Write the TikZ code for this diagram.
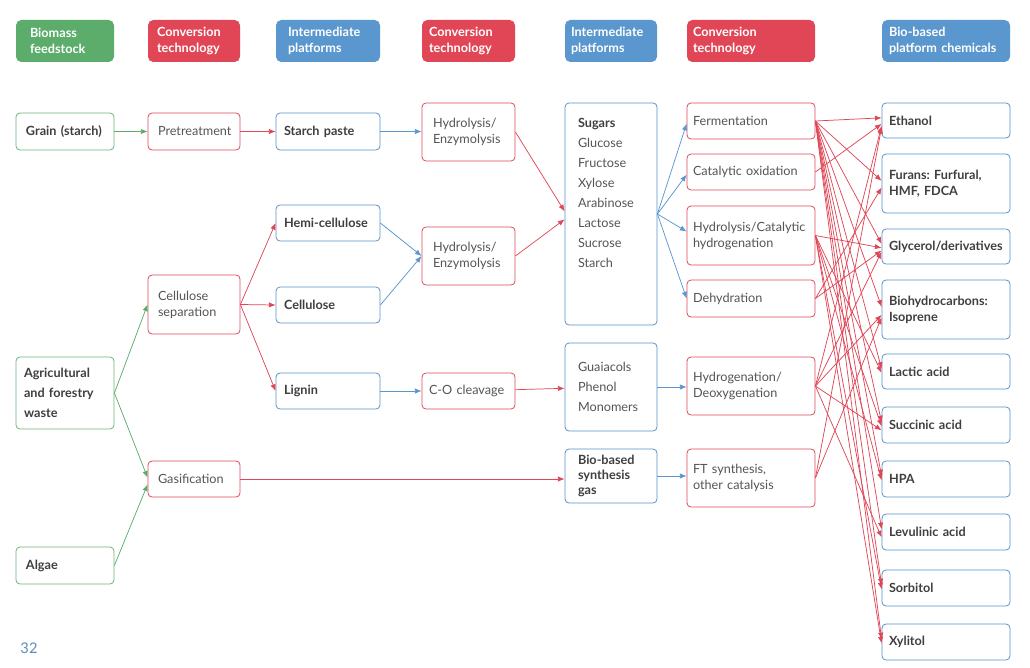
\documentclass[tikz,border=0pt]{standalone}
\usepackage{fontspec}
\setmainfont{Lato}
\usetikzlibrary{arrows.meta}
\hyphenpenalty=10000
\exhyphenpenalty=10000
\frenchspacing
\definecolor{cg}{HTML}{5CAD6B}
\definecolor{cr}{HTML}{E04656}
\definecolor{cb}{HTML}{5A97CE}
\definecolor{cgl}{HTML}{6DB577}
\definecolor{crl}{HTML}{DE4B5C}
\definecolor{cbl}{HTML}{5A92C8}
\definecolor{tx}{HTML}{3F3F3F}
\definecolor{tl}{HTML}{555555}
\definecolor{cpg}{HTML}{5F8CB8}
\newcommand\mybox[8]{%
  \node[#7, minimum width={(#4-#2)*0.75pt}, minimum height={(#5-#3)*0.75pt},
        text width={(#4-#2-2*#6)*0.75pt}] (#1) at ({(#2+#4)/2},{(#3+#5)/2}) {#8};}
\newcommand\ca[3]{\draw[ra] (#1.east) -- ([yshift=#3]#2.west);}
\tikzset{
  box/.style={draw, rounded corners=3pt, line width=0.6pt, inner sep=0pt, align=left, fill=white},
  hdr/.style={rounded corners=4pt, inner sep=0pt, align=left, text=white,
     font=\fontsize{9.5}{12}\selectfont\bfseries},
  gbox/.style={box, draw=cgl, text=tx, font=\fontsize{9.5}{12}\selectfont\bfseries},
  rbox/.style={box, draw=crl, text=tl, font=\fontsize{9.5}{12}\selectfont},
  bbox/.style={box, draw=cbl, text=tx, font=\fontsize{9.5}{12}\selectfont\bfseries},
  blbox/.style={box, draw=cbl, text=tl, font=\fontsize{9.5}{15}\selectfont},
  arr/.style={line width=0.55pt, -{Latex[length=5pt,width=4pt]}},
  ga/.style={arr, draw=cg, color=cg},
  ra/.style={arr, draw=cr, color=cr},
  ba/.style={arr, draw=cb, color=cb},
}
\begin{document}
\begin{tikzpicture}[x=0.75pt,y=-0.75pt]
\fill[white] (0,0) rectangle (1030,667);
\useasboundingbox (0,0) rectangle (1030,667);
% headers
\mybox{h1}{16}{20}{114}{62}{14}{hdr, fill=cg}{Biomass\\feedstock}
\mybox{h2}{148}{20}{240}{62}{9}{hdr, fill=cr}{Conversion\\technology}
\mybox{h3}{276}{20}{380}{62}{12}{hdr, fill=cb}{Intermediate\\platforms}
\mybox{h4}{422}{20}{515}{62}{7}{hdr, fill=cr}{Conversion\\technology}
\mybox{h5}{565}{20}{657}{62}{6}{hdr, fill=cb}{Intermediate\\platforms}
\mybox{h6}{687}{20}{815}{62}{6}{hdr, fill=cr}{Conversion\\technology}
\mybox{h7}{882}{20}{1010}{62}{7}{hdr, fill=cb}{Bio-based\\platform chemicals}
% feedstock
\mybox{grain}{16}{113}{114}{150}{10}{gbox}{Grain (starch)}
\mybox{agri}{16}{357}{114}{429}{8}{gbox, font=\fontsize{9.5}{15}\selectfont\bfseries}{Agricultural\\and forestry\\waste}
\mybox{algae}{16}{547}{114}{584}{10}{gbox}{Algae}
% conversion 1
\mybox{pre}{148}{113}{240}{150}{10}{rbox}{Pretreatment}
\mybox{csep}{148}{275}{240}{334}{10}{rbox}{Cellulose\\separation}
\mybox{gas}{148}{461}{240}{497}{10}{rbox}{Gasification}
% intermediate 1
\mybox{starch}{276}{113}{380}{150}{8}{bbox}{Starch paste}
\mybox{hemi}{276}{205}{380}{241}{8}{bbox}{Hemi-cellulose}
\mybox{cell}{276}{287}{380}{323}{8}{bbox}{Cellulose}
\mybox{lig}{276}{373}{380}{409}{8}{bbox}{Lignin}
% conversion 2
\mybox{hyd1}{422}{103}{515}{161}{11}{rbox}{Hydrolysis/\\Enzymolysis}
\mybox{hyd2}{422}{227}{515}{285}{11}{rbox}{Hydrolysis/\\Enzymolysis}
\mybox{coc}{422}{373}{515}{409}{7}{rbox}{C-O cleavage}
% intermediate 2
\mybox{sug}{565}{103}{657}{325}{13}{blbox}{\parbox[c][144pt][t]{49.5pt}{\baselineskip=15pt\textbf{\color{tx}Sugars}\\Glucose\\Fructose\\Xylose\\Arabinose\\Lactose\\Sucrose\\Starch}}
\mybox{gua}{565}{343}{657}{431}{13}{blbox}{Guaiacols\\Phenol\\Monomers}
\mybox{syn}{565}{449}{657}{503}{13}{bbox, font=\fontsize{9.5}{11}\selectfont\bfseries}{Bio-based\\synthesis\\gas}
% conversion 3
\mybox{fer}{687}{103}{815}{139}{6}{rbox}{Fermentation}
\mybox{cox}{687}{154}{815}{190}{6}{rbox}{Catalytic oxidation}
\mybox{hch}{687}{206}{815}{265}{6}{rbox}{Hydrolysis/Catalytic\\hydrogenation}
\mybox{deh}{687}{280}{815}{317}{6}{rbox}{Dehydration}
\mybox{hdo}{687}{357}{815}{415}{6}{rbox}{Hydrogenation/\\Deoxygenation}
\mybox{fts}{687}{449}{815}{507}{6}{rbox}{FT synthesis,\\other catalysis}
% chemicals
\mybox{eth}{882}{103}{1010}{138}{7}{bbox}{Ethanol}
\mybox{fur}{882}{154}{1010}{213}{7}{bbox}{Furans: Furfural,\\HMF, FDCA}
\mybox{gly}{882}{229}{1010}{264}{7}{bbox}{Glycerol/derivatives}
\mybox{bio}{882}{280}{1010}{339}{7}{bbox}{Biohydrocarbons:\\Isoprene}
\mybox{lac}{882}{354}{1010}{389}{7}{bbox}{Lactic acid}
\mybox{suc}{882}{407}{1010}{443}{7}{bbox}{Succinic acid}
\mybox{hpa}{882}{461}{1010}{497}{7}{bbox}{HPA}
\mybox{lev}{882}{514}{1010}{550}{7}{bbox}{Levulinic acid}
\mybox{sor}{882}{570}{1010}{606}{7}{bbox}{Sorbitol}
\mybox{xyl}{882}{624}{1010}{660}{7}{bbox}{Xylitol}
\node[text=cpg, font=\fontsize{11}{13}\selectfont] (pg) at (29,648) {32};
% green arrows
\draw[ga] (grain) -- (pre);
\draw[ga] (agri.east) -- (csep.west);
\draw[ga] (agri.east) -- ([yshift=1pt]gas.west);
\draw[ga] (algae.east) -- ([yshift=-4pt]gas.west);
% red arrows
\draw[ra] (pre) -- (starch);
\draw[ra] (csep.east) -- (hemi.west);
\draw[ra] (csep.east) -- (cell.west);
\draw[ra] (csep.east) -- (lig.west);
\draw[ra] (hyd1.east) -- ([yshift=2pt]sug.west);
\draw[ra] (hyd2.east) -- ([yshift=-4pt]sug.west);
\draw[ra] (coc) -- (gua);
\draw[ra] (gas.east) -- (gas.east -| syn.west);
% blue arrows
\draw[ba] (starch) -- (starch.east -| hyd1.west);
\draw[ba] (hemi.east) -- (hyd2.west);
\draw[ba] (cell.east) -- (hyd2.west);
\draw[ba] (lig) -- (coc);
\draw[ba] (sug.east) -- ([yshift=-2pt]fer.west);
\draw[ba] (sug.east) -- ([yshift=-2pt]cox.west);
\draw[ba] (sug.east) -- ([yshift=3pt]hch.west);
\draw[ba] (sug.east) -- (deh.west);
\draw[ba] (gua.east) -- (gua.east -| hdo.west);
\draw[ba] (syn.east) -- (syn.east -| fts.west);
% to chemicals
\foreach \t in {eth,fur,gly,bio,lac,suc,hpa,lev,sor,xyl} {\ca{fer}{\t}{2pt}}
\ca{cox}{eth}{-2.5pt}
\foreach \t in {gly,lac,suc,hpa,sor,xyl} {\ca{hch}{\t}{-1pt}}
\ca{deh}{fur}{-3pt}
\ca{deh}{gly}{-3pt}
\foreach \t in {eth,gly,bio} {\ca{hdo}{\t}{-4pt}}
\foreach \t in {suc,lev} {\ca{hdo}{\t}{-4pt}}
\ca{fts}{bio}{-6pt}
\ca{fts}{eth}{-5pt}
\end{tikzpicture}
\end{document}
